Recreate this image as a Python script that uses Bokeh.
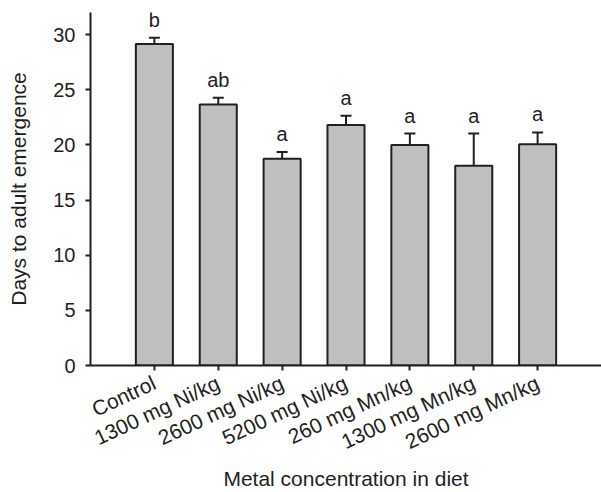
import math
from bokeh.plotting import figure
from bokeh.models import Range1d, FixedTicker, ColumnDataSource, Whisker, TeeHead, LabelSet
from bokeh.core.properties import value
from bokeh.embed import file_html
from bokeh.resources import INLINE

# ---- data ----
categories = ["Control", "1300 mg Ni/kg", "2600 mg Ni/kg", "5200 mg Ni/kg",
              "260 mg Mn/kg", "1300 mg Mn/kg", "2600 mg Mn/kg"]
means = [29.15, 23.65, 18.75, 21.8, 20.0, 18.1, 20.05]
errors = [0.55, 0.62, 0.6, 0.85, 1.02, 2.92, 1.08]
letters = ["b", "ab", "a", "a", "a", "a", "a"]
y_ticks = [0, 5, 10, 15, 20, 25, 30]

FONT = "Liberation Sans"
INK = "#231f20"

xs = list(range(len(categories)))
src = ColumnDataSource(dict(
    x=xs,
    top=means,
    upper=[m + e for m, e in zip(means, errors)],
    letter=letters,
))

p = figure(width=601, height=492,
           x_range=Range1d(-1, len(categories)), y_range=Range1d(0, 32),
           output_backend="svg", toolbar_location=None,
           min_border_left=90, min_border_right=0, min_border_top=12, min_border_bottom=124)
p.outline_line_color = None
p.xgrid.visible = False
p.ygrid.visible = False
p.background_fill_color = "white"
p.border_fill_color = "white"

p.vbar(x="x", top="top", bottom=0, width=0.58, source=src,
       fill_color="#bebfc1", line_color=INK, line_width=2)

w = Whisker(base="x", lower="top", upper="upper", source=src,
            line_color=INK, line_width=2,
            upper_head=TeeHead(size=11, line_color=INK, line_width=2),
            lower_head=None, level="glyph")
p.add_layout(w)

labels = LabelSet(x="x", y="upper", text="letter", source=src,
                  text_align="center", text_baseline="bottom", y_offset=7,
                  text_font=value(FONT), text_font_size="20px", text_color=INK)
p.add_layout(labels)

# axes
for ax in (p.xaxis[0], p.yaxis[0]):
    ax.axis_line_color = INK
    ax.axis_line_width = 2
    ax.major_tick_line_color = INK
    ax.major_tick_line_width = 2
    ax.major_tick_out = 5
    ax.major_tick_in = 0
    ax.minor_tick_line_color = None
    ax.major_label_text_font = FONT
    ax.major_label_text_font_size = "20px"
    ax.major_label_text_color = INK
    ax.axis_label_text_font = FONT
    ax.axis_label_text_font_size = "21px"
    ax.axis_label_text_font_style = "normal"
    ax.axis_label_text_color = INK

p.yaxis.ticker = FixedTicker(ticks=y_ticks)
p.yaxis.major_label_standoff = 10
p.yaxis.axis_label = "Days to adult emergence"
p.yaxis.axis_label_standoff = 20

p.xaxis.ticker = FixedTicker(ticks=xs)
p.xaxis.major_label_overrides = {i: c for i, c in zip(xs, categories)}
p.xaxis.major_label_orientation = math.radians(25)
p.xaxis.major_label_text_font_size = "21px"
p.xaxis.major_label_standoff = 11
p.xaxis.axis_label = "Metal concentration in diet"
p.xaxis.axis_label_standoff = 0

open("out.html", "w").write(file_html(p, INLINE))
